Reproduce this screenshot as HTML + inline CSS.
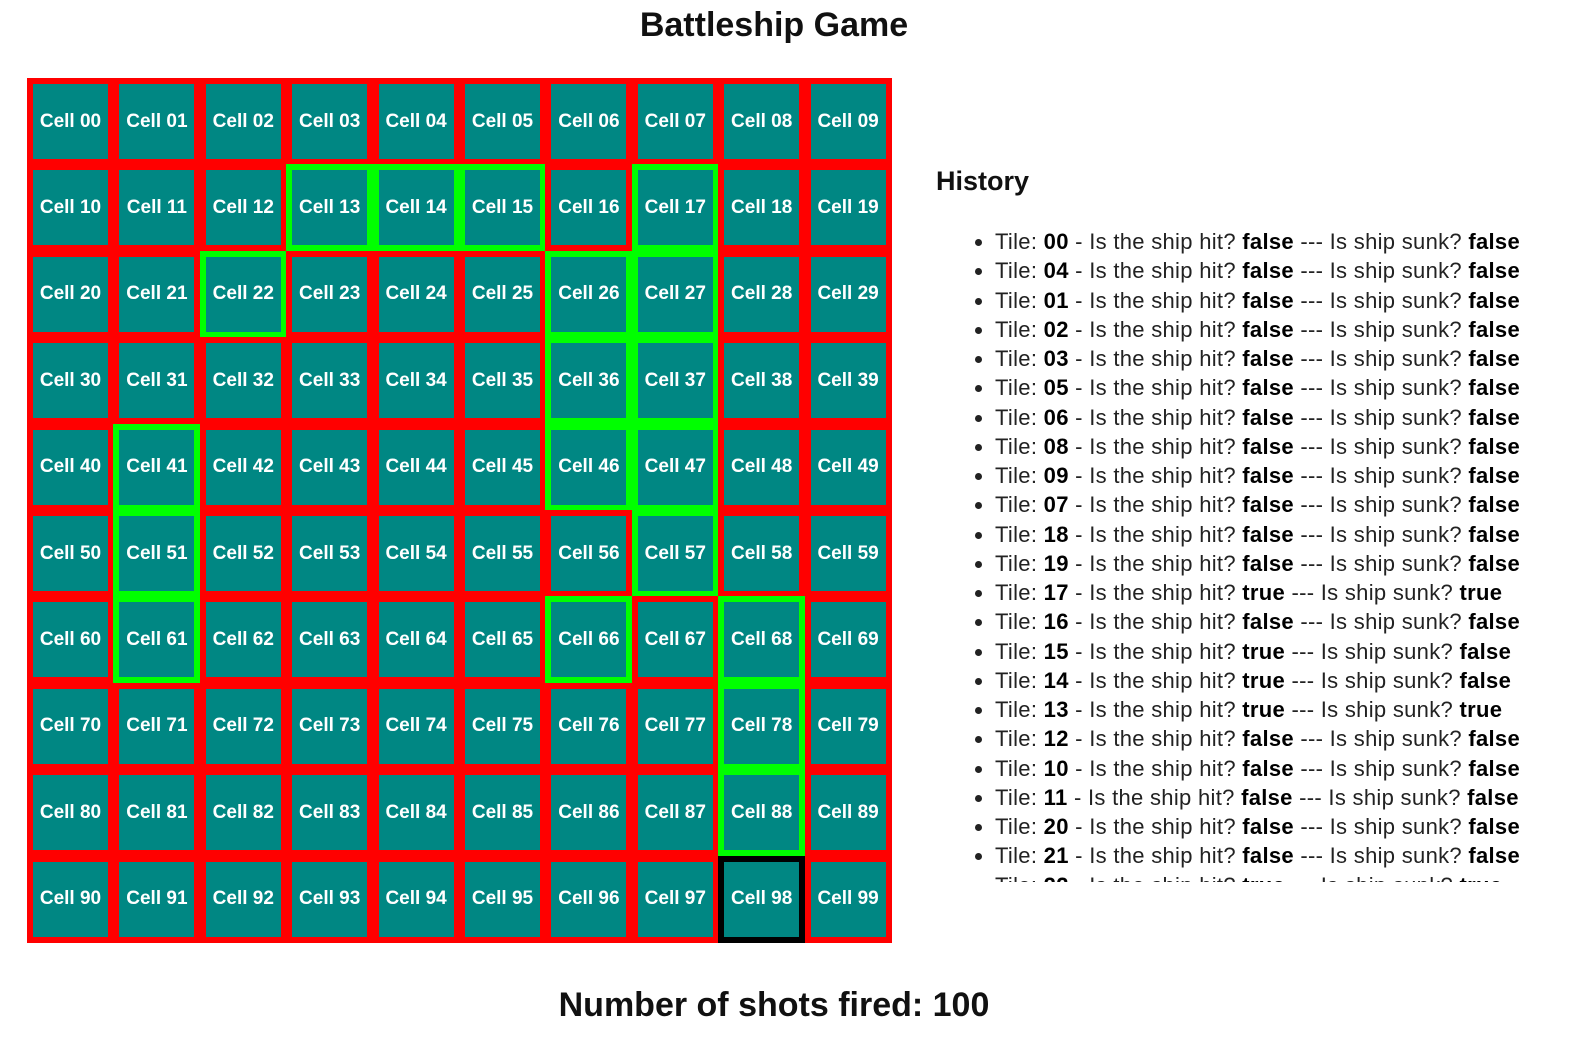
<!DOCTYPE html>
<html><head><meta charset="utf-8">
<style>
body{margin:0;width:1579px;height:1056px;background:#fff;font-family:"Liberation Sans",sans-serif;position:relative;overflow:hidden}
#title{position:absolute;left:0;width:1548px;top:6px;text-align:center;font-size:34px;font-weight:bold;color:#111}
#board{position:absolute;left:27px;top:78px;width:864px;height:864px;background:#f00}
.cell{position:absolute;box-sizing:border-box;width:87px;height:87px;border:6px solid #f00;background:#008783;color:#fff;font-weight:bold;font-size:19px;display:flex;align-items:center;justify-content:center;letter-spacing:0}
.cell.hit{border-color:#0f0}
.cell.last{border-color:#000}
#hist-title{position:absolute;left:936px;top:166px;font-size:27px;font-weight:bold;color:#111}
#hist{position:absolute;left:960px;top:227px;width:610px;height:655px;overflow:hidden}
#hist ul{margin:0;padding:0 0 0 35px;list-style:disc}
#hist li{font-size:22px;line-height:29.25px;height:29.25px;color:#222;white-space:nowrap;letter-spacing:0.3px;font-weight:300}
#hist li b{color:#000;font-weight:700}
#shots{position:absolute;left:0;width:1548px;top:986px;text-align:center;font-size:34px;font-weight:bold;color:#111}
</style></head><body>
<div id="title">Battleship Game</div>
<div id="board"></div>
<div id="hist-title">History</div>
<div id="hist"><ul id="hist-list"></ul></div>
<div id="shots">Number of shots fired: 100</div>
<script>
const hitCells=[13,14,15,17,22,26,27,36,37,41,46,47,51,57,61,66,68,78,88];
const lastCell=98;
const histTiles=["00","04","01","02","03","05","06","08","09","07","18","19","17","16","15","14","13","12","10","11","20","21","22"];
const histHit=[0,0,0,0,0,0,0,0,0,0,0,0,1,0,1,1,1,0,0,0,0,0,1];
const histSunk=[0,0,0,0,0,0,0,0,0,0,0,0,1,0,0,0,1,0,0,0,0,0,1];
const board=document.getElementById('board');
const pitch=86.4;
for(let r=0;r<10;r++)for(let c=0;c<10;c++){
  const id=r*10+c;
  const el=document.createElement('div');
  el.className='cell'+(hitCells.includes(id)?' hit':'')+(id===lastCell?' last':'');
  el.style.left=(c*pitch)+'px';el.style.top=(r*pitch)+'px';
  el.textContent='Cell '+r+c;
  
  
  board.appendChild(el);
}
const ul=document.getElementById('hist-list');
histTiles.forEach((t,i)=>{
  const li=document.createElement('li');
  li.innerHTML='Tile: <b>'+t+'</b> - Is the ship hit? <b>'+(histHit[i]?'true':'false')+'</b> --- Is ship sunk? <b>'+(histSunk[i]?'true':'false')+'</b>';
  
  
  ul.appendChild(li);
});
</script>
</body></html>
